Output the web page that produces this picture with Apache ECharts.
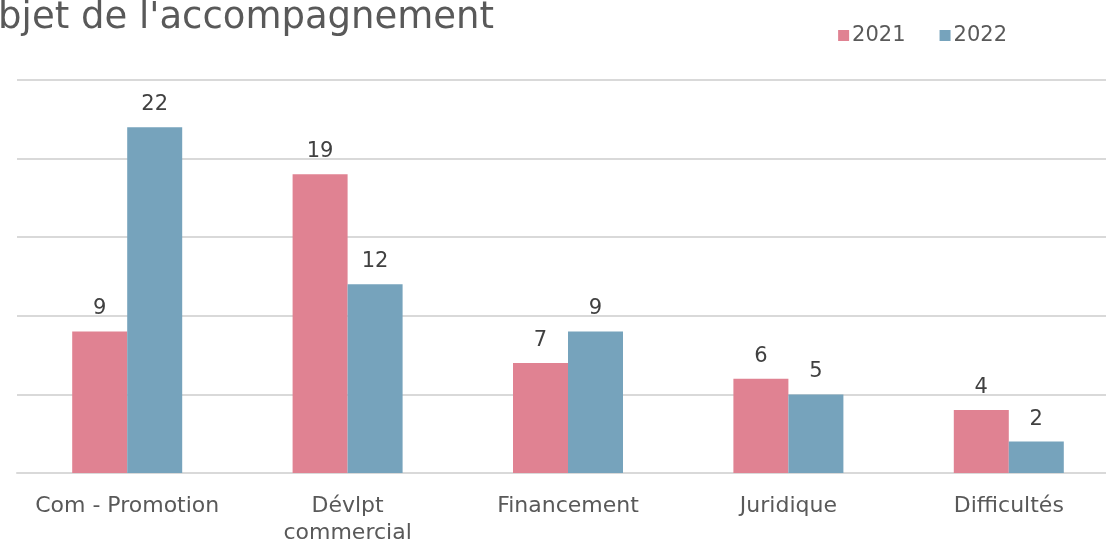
<!DOCTYPE html>
<html><head><meta charset="utf-8">
<script src="https://cdn.jsdelivr.net/npm/echarts@6/dist/echarts.min.js"></script>
<style>html,body{margin:0;padding:0;background:#fff;overflow:hidden}#c{width:1106px;height:541px}</style>
</head><body><div id="c"></div>
<script>
const categories = ['Com - Promotion', 'Dévlpt\ncommercial', 'Financement', 'Juridique', 'Difficultés'];
const values2021 = [9, 19, 7, 6, 4];
const values2022 = [22, 12, 9, 5, 2];
const seriesNames = ['2021', '2022'];
const titleText = "Objet de l'accompagnement";

const FONT = 'DejaVu Sans';
const chart = echarts.init(document.getElementById('c'), null, {renderer: 'canvas'});
chart.setOption({
  animation: false,
  textStyle: {fontFamily: FONT},
  title: {text: titleText, left: -36, top: -5,
    textStyle: {fontFamily: FONT, fontSize: 37, fontWeight: 'normal', color: '#595959'}},
  legend: {data: seriesNames, right: 94, top: 20, itemWidth: 11, itemHeight: 11, itemGap: 34,
    icon: 'rect', textStyle: {fontFamily: FONT, fontSize: 21, color: '#595959', padding: [0,0,0,-2]}},
  grid: {left: 17, top: 80, width: 1102, height: 393, containLabel: false, outerBoundsMode: 'none'},
  xAxis: {type: 'category', data: categories,
    axisLine: {lineStyle: {color: '#d9d9d9', width: 2}}, axisTick: {show: false},
    axisLabel: {fontFamily: FONT, fontSize: 22, color: '#595959', margin: 20, lineHeight: 27, interval: 0}},
  yAxis: {type: 'value', min: 0, max: 25, interval: 5, axisLabel: {show: false},
    axisLine: {show: false}, axisTick: {show: false},
    splitLine: {lineStyle: {color: '#d9d9d9', width: 2}}},
  series: [
    {name: seriesNames[0], type: 'bar', data: values2021, barWidth: 55, barGap: '0%',
     itemStyle: {color: '#E08292'},
     label: {show: true, position: 'top', distance: 12, fontFamily: FONT, fontSize: 21, color: '#404040'}},
    {name: seriesNames[1], type: 'bar', data: values2022, barWidth: 55, barGap: '0%',
     itemStyle: {color: '#76A3BC'},
     label: {show: true, position: 'top', distance: 12, fontFamily: FONT, fontSize: 21, color: '#404040'}}
  ]
});
</script></body></html>
